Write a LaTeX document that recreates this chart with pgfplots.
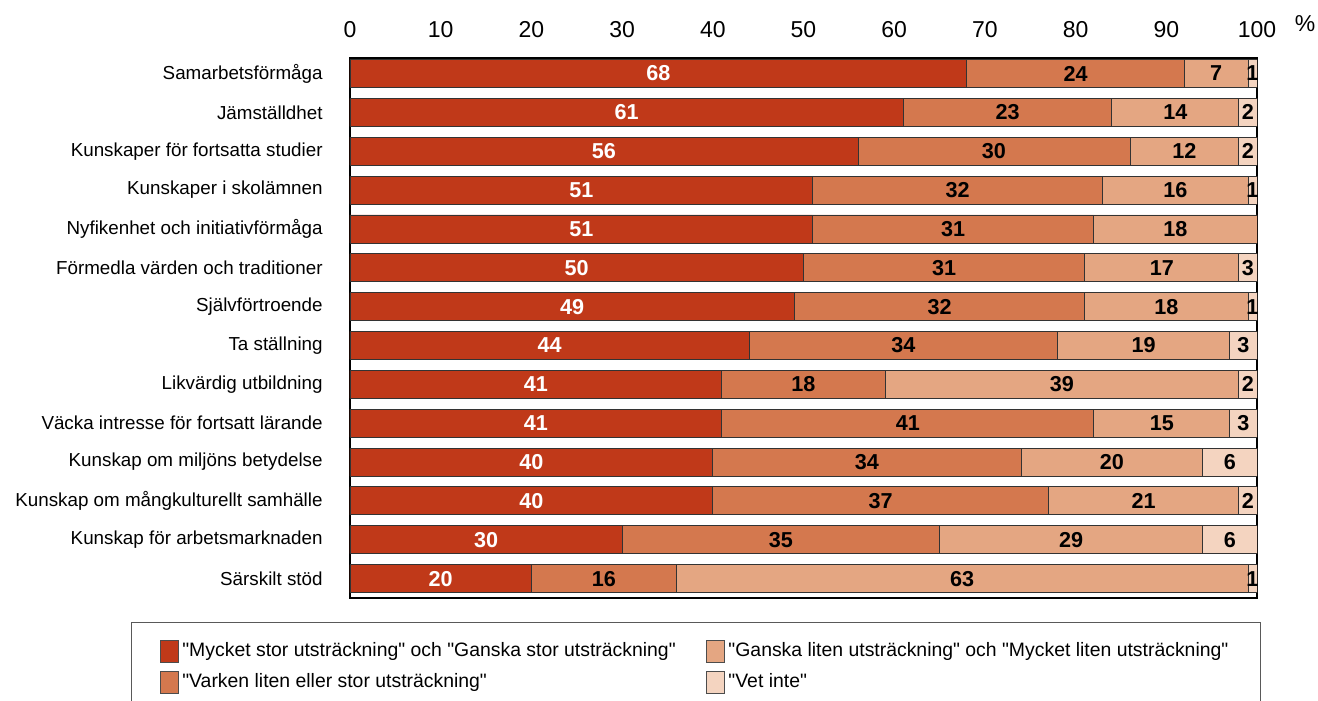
\documentclass[border=0pt]{standalone}
\usepackage{pgfplots}
\pgfplotsset{compat=1.18}
\usepackage{pgfplotstable}
\usepackage{fontspec}
\setmainfont{Liberation Sans}[Ligatures=TeXOff]

\definecolor{cA}{HTML}{C03919}
\definecolor{cB}{HTML}{D4784E}
\definecolor{cC}{HTML}{E4A682}
\definecolor{cD}{HTML}{F4D4C0}

\pgfplotstableread{
idx a b c d dl
0 68 24 7 1 1
1 61 23 14 2 2
2 56 30 12 2 2
3 51 32 16 1 1
4 51 31 18 0 {}
5 50 31 17 2 3
6 49 32 18 1 1
7 44 34 19 3 3
8 41 18 39 2 2
9 41 41 15 3 3
10 40 34 20 6 6
11 40 37 21 2 2
12 30 35 29 6 6
13 20 16 63 1 1
}\mainT

\begin{document}
\begin{tikzpicture}
\begin{axis}[name=ax, at={(175pt,-29pt)}, anchor=north west,
  scale only axis, width=453.5pt, height=270pt,
  xbar stacked, bar width=14pt,
  xmin=0, xmax=100, ymin=-0.4, ymax=13.5, y dir=reverse,
  xtick={0,10,...,100}, xticklabel pos=upper,
  ytick={0,...,13},
  yticklabels={Samarbetsförmåga, Jämställdhet, Kunskaper för fortsatta studier, Kunskaper i skolämnen, Nyfikenhet och initiativförmåga, Förmedla värden och traditioner, Självförtroende, Ta ställning, Likvärdig utbildning, Väcka intresse för fortsatt lärande, Kunskap om miljöns betydelse, Kunskap om mångkulturellt samhälle, Kunskap för arbetsmarknaden, Särskilt stöd},
  major tick length=0pt,
  axis line style={line width=1pt},
  /pgf/number format/assume math mode=true,
  xticklabel style={font=\fontsize{11.5}{13}\selectfont, anchor=base, inner sep=0pt, yshift=10.5pt},
  yticklabel style={font=\fontsize{9.4}{11}\selectfont, anchor=east, inner sep=0pt, xshift=-13.5pt},
  point meta=explicit symbolic,
  nodes near coords={\pgfplotspointmeta},
  every node near coord/.append style={anchor=center, font=\fontsize{10.8}{12}\selectfont\bfseries},
  legend columns=2, transpose legend,
  legend style={at={(-0.2415,-0.0444)}, anchor=north west, draw=black!65, line width=0.6pt,
    inner xsep=14pt, inner ysep=8pt, font=\fontsize{9.7}{11.5}\selectfont,
    /tikz/every even column/.append style={column sep=13pt}, row sep=3pt, cells={anchor=west}},
  legend image code/.code={\draw[#1, draw=black!70, line width=0.4pt] (0pt,-5.5pt) rectangle (9pt,5.5pt);},
]
\addplot[fill=cA, draw=black!80, line width=0.4pt, nodes near coords style={white}] table[x=a,y=idx,meta=a]{\mainT};
\addlegendentry{"Mycket stor utsträckning" och "Ganska stor utsträckning"}
\addplot[fill=cB, draw=black!80, line width=0.4pt, nodes near coords style={black}] table[x=b,y=idx,meta=b]{\mainT};
\addlegendentry{"Varken liten eller stor utsträckning"}
\addplot[fill=cC, draw=black!80, line width=0.4pt, nodes near coords style={black}] table[x=c,y=idx,meta=c]{\mainT};
\addlegendentry{"Ganska liten utsträckning" och "Mycket liten utsträckning"}
\addplot[fill=cD, draw=black!80, line width=0.4pt, nodes near coords style={black}] table[x=d,y=idx,meta=dl]{\mainT};
\addlegendentry{"Vet inte"}
\end{axis}
\node[anchor=base, font=\fontsize{11.5}{13}\selectfont] at ([xshift=24pt,yshift=13pt]ax.north east) {\%};
\pgfresetboundingbox
\path[use as bounding box] (0,0) rectangle (659pt,-350.5pt);
\end{tikzpicture}
\end{document}
